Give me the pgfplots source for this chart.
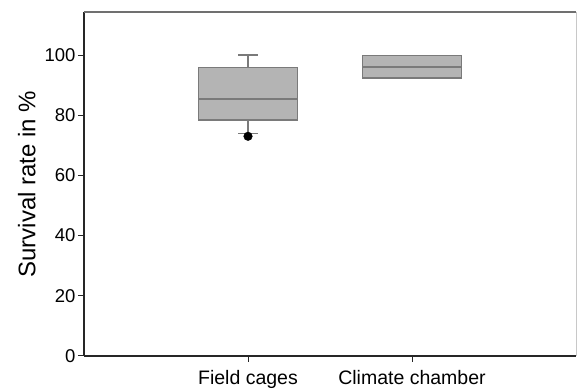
\documentclass[border=0pt]{standalone}
\usepackage{pgfplots}
\pgfplotsset{compat=1.18}
\usepackage{fontspec}
\setmainfont{Liberation Sans}
\definecolor{boxfill}{RGB}{180,180,180}
\definecolor{boxedge}{RGB}{122,122,122}
\definecolor{frametop}{RGB}{112,112,112}
\definecolor{frameright}{RGB}{200,200,200}
\begin{document}
\begin{tikzpicture}
\begin{axis}[
  name=ax,
  scale only axis,
  width=492pt, height=344pt,
  xmin=0, xmax=3, ymin=0, ymax=114.3,
  axis lines=left,
  axis line style={-, line width=1.3pt, black!85},
  xtick={1,2}, xticklabels={Field cages, Climate chamber},
  ytick={0,20,40,60,80,100},
  tick align=outside,
  major tick length=6pt,
  tick style={black!85, line width=1pt},
  /pgf/number format/assume math mode=true,
  yticklabel style={font=\fontsize{18.5}{22}\selectfont, xshift=1pt},
  xticklabel style={font=\fontsize{19.5}{23}\selectfont, yshift=-4.5pt},
  ylabel={Survival rate in \%},
  ylabel style={font=\fontsize{24}{28}\selectfont, yshift=2pt},
  clip=false,
]
% frame top and right
\draw[frametop, line width=1.5pt] (rel axis cs:0,1) -- (rel axis cs:1,1);
\draw[frameright, line width=1pt] (rel axis cs:1,1) -- (rel axis cs:1,0);
% Field cages
\addplot[boxedge, line width=1.2pt] coordinates {(1,95.9) (1,100)};
\addplot[boxedge, line width=1.2pt] coordinates {(0.94,100) (1.06,100)};
\addplot[boxedge, line width=1.2pt] coordinates {(1,78.4) (1,73.8)};
\addplot[boxedge, line width=1.2pt] coordinates {(0.94,73.8) (1.06,73.8)};
\addplot[draw=boxedge, fill=boxfill, line width=1.3pt] coordinates {(0.698,78.4) (1.302,78.4) (1.302,95.9) (0.698,95.9)} -- cycle;
\addplot[boxedge, line width=1.6pt] coordinates {(0.698,85.4) (1.302,85.4)};
\addplot[only marks, mark=*, mark size=4.3pt, mark options={fill=black, draw=black}] coordinates {(1,73.0)};
% Climate chamber
\addplot[draw=boxedge, fill=boxfill, line width=1.3pt] coordinates {(1.698,92.4) (2.302,92.4) (2.302,99.8) (1.698,99.8)} -- cycle;
\addplot[boxedge, line width=1.6pt] coordinates {(1.698,96.0) (2.302,96.0)};
\end{axis}
\pgfresetboundingbox
\useasboundingbox ([xshift=-84pt,yshift=-34pt]ax.south west) rectangle ([xshift=1pt,yshift=12pt]ax.north east);
\end{tikzpicture}
\end{document}
